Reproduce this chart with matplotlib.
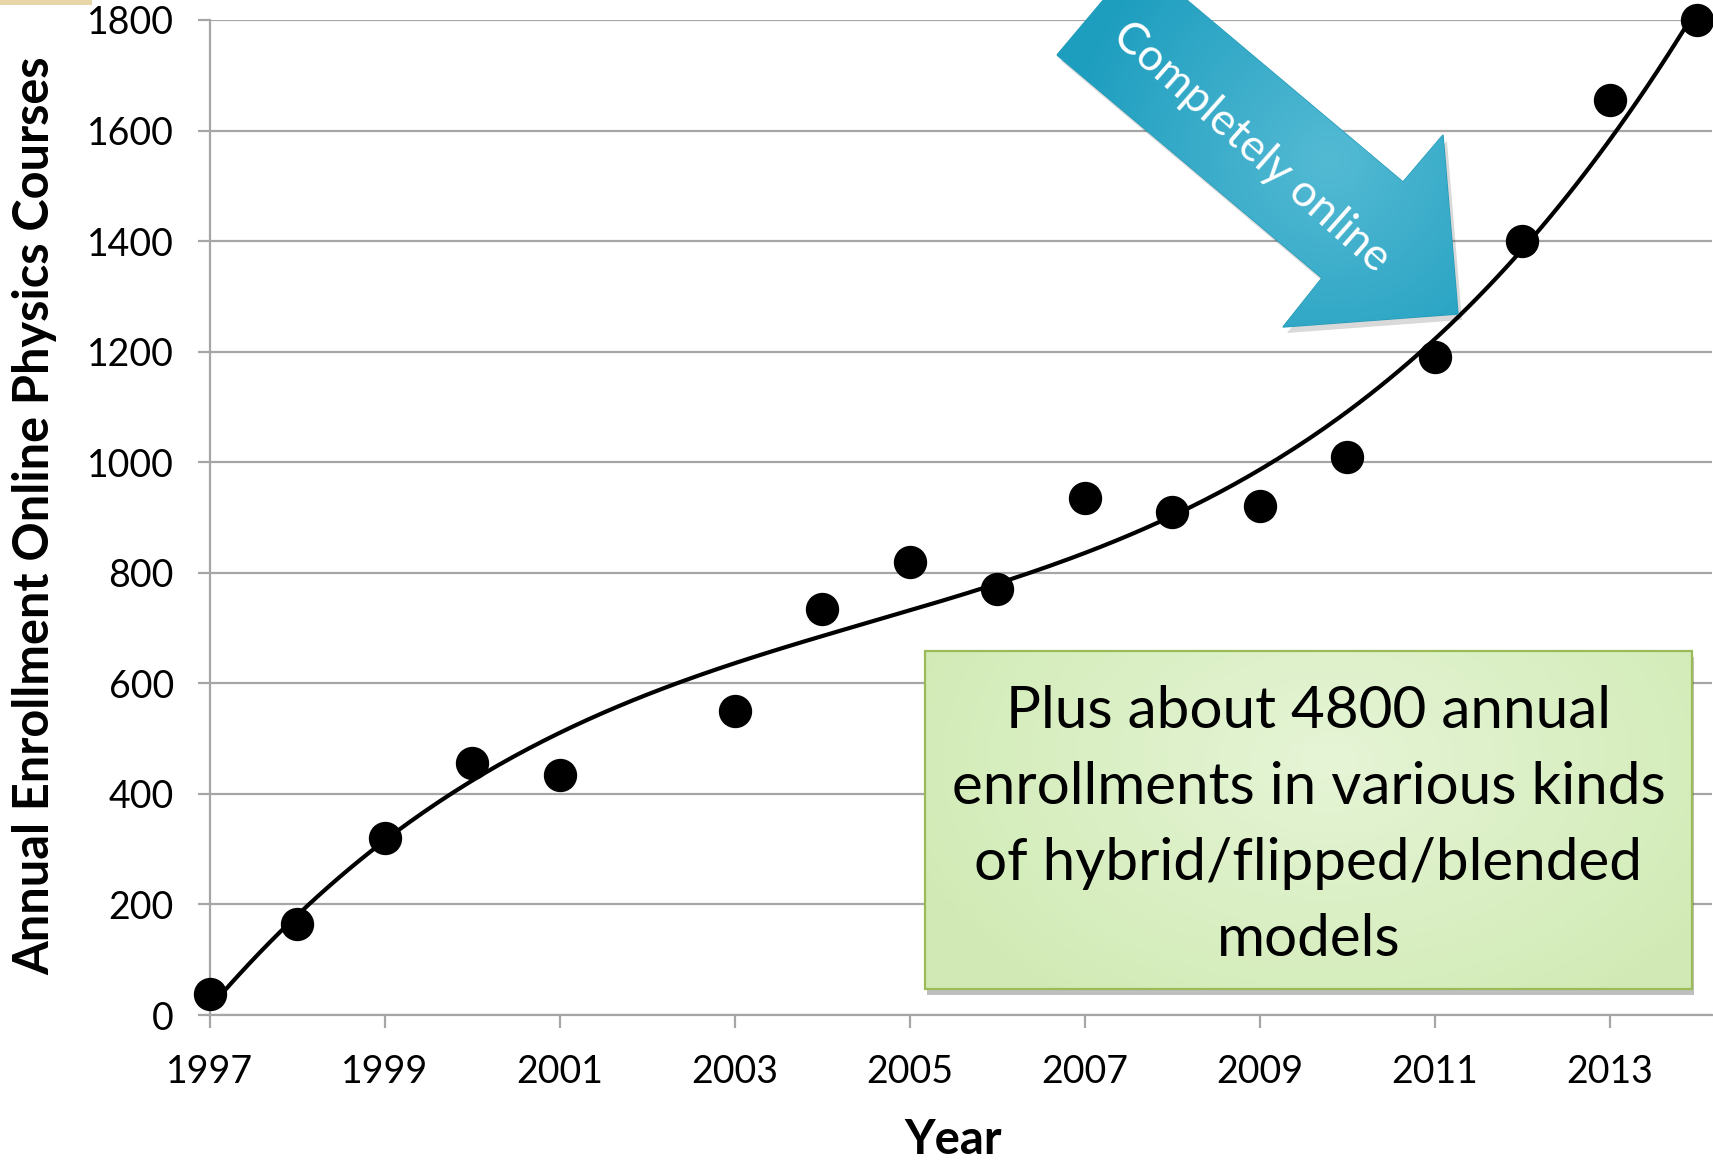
import numpy as np
import matplotlib.pyplot as plt
from matplotlib.patches import Polygon, Rectangle

plt.rcParams['font.family'] = ['Lato', 'DejaVu Sans']

# data
years = [1997, 1998, 1999, 2000, 2001, 2003, 2004, 2005, 2006,
         2007, 2008, 2009, 2010, 2011, 2012, 2013, 2014]
enroll = [38, 165, 320, 455, 435, 550, 735, 820, 770,
          935, 910, 920, 1010, 1190, 1400, 1655, 1800]
yticks = list(range(0, 1801, 200))
xticks = list(range(1997, 2014, 2))
box_lines = ["Plus about 4800 annual", "enrollments in various kinds",
             "of hybrid/flipped/blended", "models"]

W, H = 1713, 1161
fig = plt.figure(figsize=(W / 100, H / 100), dpi=100)
ax = fig.add_axes([210 / W, 1 - 1015 / H, 1502 / W, 995 / H])

# 3rd order trendline (like the Excel one)
x0 = np.array(years) - 1997
coef = np.polyfit(x0, enroll, 3)
xs = np.linspace(0, 17, 300)
ax.plot(xs + 1997, np.polyval(coef, xs), color="black", lw=3, zorder=3)
ax.plot(years, enroll, "o", color="black", ms=23, zorder=4, clip_on=False)

grey = "#a6a6a6"
ax.set_xlim(1997, 2014.17)
ax.set_ylim(0, 1800)
ax.set_xticks(xticks)
ax.set_yticks(yticks)
ax.grid(axis="y", color=grey, lw=1.6)
ax.set_axisbelow(True)
for s in ["top", "right"]:
    ax.spines[s].set_visible(False)
for s in ["left", "bottom"]:
    ax.spines[s].set_color(grey)
    ax.spines[s].set_linewidth(1.6)
ax.tick_params(axis="both", color=grey, width=1.6, length=9, labelsize=27)
ax.tick_params(axis="y", pad=17)
ax.tick_params(axis="x", pad=19)

fig.text(35 / W, 1 - 516 / H, "Annual Enrollment Online Physics Courses",
         rotation=90, fontsize=35, fontweight="bold", ha="center", va="center")
fig.text(953 / W, 1 - 1140 / H, "Year", fontsize=34, fontweight="bold",
         ha="center", va="center")

# overlay in pixel coordinates for the callouts
ov = fig.add_axes([0, 0, 1, 1])
ov.set_xlim(0, W)
ov.set_ylim(H, 0)
ov.axis("off")
ov.set_zorder(5)

ov.add_patch(Rectangle((0, 0), 92, 5, color="#e8d6a8", lw=0))

# arrow
pts = [(1057, 55), (1322, 278), (1283, 327), (1458, 314),
       (1443, 135), (1403, 182), (1138, -41)]
shadow = Polygon([(x + 4, y + 6) for x, y in pts], closed=True,
                 color="black", alpha=0.15, lw=0)
ov.add_patch(shadow)
arrow = Polygon(pts, closed=True, facecolor="none", edgecolor="#2199b6", lw=1)
ov.add_patch(arrow)
gx = np.linspace(1040, 1470, 300)
gy = np.linspace(-50, 340, 300)
GX, GY = np.meshgrid(gx, gy)
d = np.clip(np.hypot(GX - 1330, GY - 160) / 260, 0, 1)
c1 = np.array([0.33, 0.73, 0.83])
c2 = np.array([0.12, 0.62, 0.75])
img = c1[None, None, :] * (1 - d[..., None]) + c2[None, None, :] * d[..., None]
im = ov.imshow(img, extent=(1040, 1470, 340, -50), origin="upper",
               aspect="auto", zorder=1)
im.set_clip_path(arrow)
ov.set_xlim(0, W)
ov.set_ylim(H, 0)
ov.text(1251, 147, "Completely online", rotation=-41.5, rotation_mode="anchor",
        color="white", fontsize=32, ha="center", va="center", zorder=3)

# green text box
bx0, by0, bx1, by1 = 925, 651, 1692, 989
ov.add_patch(Rectangle((bx0 + 2, by0 + 6), bx1 - bx0, by1 - by0,
                       color="black", alpha=0.25, lw=0, zorder=1))
gx = np.linspace(bx0, bx1, 200)
gy = np.linspace(by0, by1, 100)
GX, GY = np.meshgrid(gx, gy)
d = np.clip(np.hypot((GX - 1330) / 450, (GY - 760) / 300), 0, 1)
c1 = np.array([0.90, 0.96, 0.84])
c2 = np.array([0.82, 0.92, 0.71])
img = c1[None, None, :] * (1 - d[..., None]) + c2[None, None, :] * d[..., None]
ov.imshow(img, extent=(bx0, bx1, by1, by0), origin="upper", aspect="auto", zorder=2)
ov.add_patch(Rectangle((bx0, by0), bx1 - bx0, by1 - by0, facecolor="none",
                       edgecolor="#9bbb59", lw=1.6, zorder=3))
ov.set_xlim(0, W)
ov.set_ylim(H, 0)
for i, line in enumerate(box_lines):
    ov.text((bx0 + bx1) / 2, 711 + 76 * i, line, fontsize=42, ha="center",
            va="center", color="black", zorder=4)

fig.savefig("out.png", dpi=100)
